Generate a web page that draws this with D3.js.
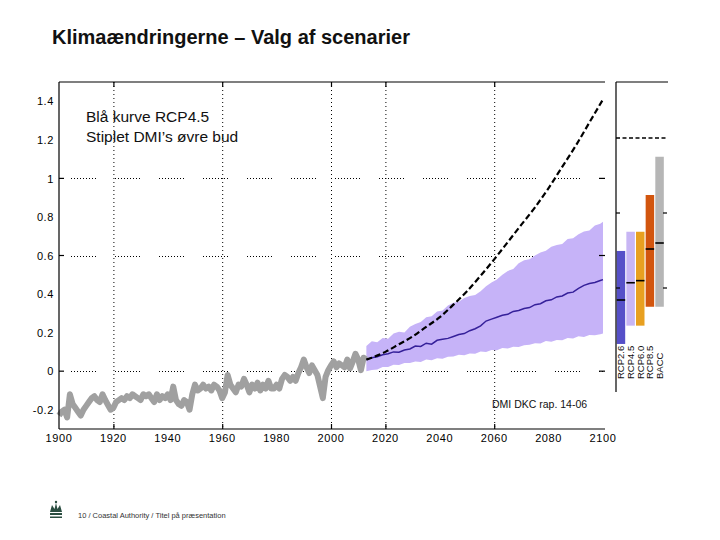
<!DOCTYPE html>
<html><head><meta charset="utf-8">
<script src="https://cdn.jsdelivr.net/npm/d3@7/dist/d3.min.js"></script>
<style>
body{margin:0;background:#fff;}
text{font-family:"Liberation Sans",Arial,Helvetica,sans-serif;}
</style></head>
<body><svg id="c" width="720" height="540"></svg>
<script>
// ---------- DATA ----------
const histYears = d3.range(1900, 2014);
const histValues = [
-0.23,-0.21,-0.20,-0.24,-0.12,-0.17,-0.19,-0.21,-0.23,-0.20,
-0.18,-0.16,-0.14,-0.13,-0.15,-0.16,-0.12,-0.15,-0.175,-0.20,
-0.19,-0.16,-0.15,-0.14,-0.15,-0.13,-0.14,-0.12,-0.13,-0.14,
-0.15,-0.12,-0.13,-0.12,-0.14,-0.16,-0.12,-0.15,-0.13,-0.14,
-0.12,-0.15,-0.08,-0.15,-0.17,-0.18,-0.15,-0.16,-0.20,-0.12,
-0.07,-0.10,-0.09,-0.07,-0.09,-0.08,-0.10,-0.07,-0.08,-0.10,
-0.14,-0.11,-0.02,-0.07,-0.09,-0.11,-0.07,-0.08,-0.04,-0.07,
-0.11,-0.07,-0.09,-0.06,-0.10,-0.07,-0.09,-0.05,-0.09,-0.09,
-0.07,-0.09,-0.04,-0.02,-0.03,-0.05,-0.03,-0.05,-0.01,0.02,
0.06,0.02,-0.01,0.03,0.005,-0.02,-0.08,-0.14,-0.03,0.005,
0.03,0.05,0.02,0.04,0.03,0.02,0.06,0.015,0.05,0.09,
0.06,0.005,0.07,0.06];

const projYears  = [2013,2015,2017,2019,2021,2023,2025,2027,2029,2031,2033,2035,2037,2039,2041,2043,2045,2047,2049,2051,2053,2055,2057,2059,2061,2063,2065,2067,2069,2071,2073,2075,2077,2079,2081,2083,2085,2087,2089,2091,2093,2095,2097,2099,2100];
const projUpper  = [0.13,0.155,0.15,0.172,0.168,0.195,0.205,0.20,0.23,0.245,0.255,0.28,0.285,0.31,0.315,0.34,0.355,0.36,0.38,0.39,0.395,0.415,0.44,0.46,0.475,0.50,0.52,0.53,0.56,0.575,0.58,0.60,0.615,0.625,0.645,0.655,0.66,0.685,0.69,0.71,0.725,0.73,0.755,0.765,0.775];
const projLower  = [0.00,0.006,0.008,0.022,0.022,0.033,0.032,0.043,0.042,0.05,0.047,0.06,0.057,0.067,0.065,0.075,0.076,0.085,0.082,0.092,0.09,0.102,0.099,0.11,0.109,0.12,0.117,0.127,0.126,0.135,0.137,0.145,0.143,0.156,0.153,0.162,0.161,0.172,0.169,0.181,0.177,0.187,0.186,0.192,0.195];
const projMedian = [0.06,0.07,0.075,0.085,0.09,0.10,0.098,0.11,0.115,0.13,0.128,0.145,0.14,0.16,0.165,0.17,0.18,0.19,0.195,0.21,0.22,0.235,0.26,0.27,0.28,0.29,0.295,0.31,0.315,0.325,0.33,0.345,0.35,0.365,0.37,0.385,0.39,0.405,0.41,0.43,0.445,0.455,0.46,0.47,0.475];

const dmiYears  = [2013,2015,2020,2025,2030,2035,2040,2045,2050,2055,2060,2065,2070,2075,2080,2085,2090,2095,2100];
const dmiValues = [0.06,0.07,0.10,0.14,0.18,0.23,0.28,0.345,0.415,0.495,0.58,0.67,0.76,0.85,0.95,1.06,1.17,1.29,1.41];

const yTicks = [-0.2,0,0.2,0.4,0.6,0.8,1,1.2,1.4];
const xTicks = [1900,1920,1940,1960,1980,2000,2020,2040,2060,2080,2100];
const gridYears = [1920,1960,2000,2020,2060];
const gridLevels = [0,0.6,1];

const scenarios   = ["RCP2.6","RCP4.5","RCP6.0","RCP8.5","BACC"];
const scenLow     = [0.127,0.249,0.249,0.375,0.375];
const scenHigh    = [0.747,0.875,0.875,1.12,1.375];
const scenMedian  = [0.42,0.535,0.549,0.76,0.80];
const scenColors  = ["#5650c8","#c8b6f4","#e8a020","#d2550e","#b6b6b6"];
const panelDmi = 1.5;
const panelTicks = [0.5,1.0];

// ---------- LAYOUT ----------
const svg = d3.select("#c");
const x = d3.scaleLinear().domain([1900,2100]).range([59,603]);
const y = d3.scaleLinear().domain([-0.3,1.5]).range([429,82]);
const pTop=82, pBottom=429, pLeft=59, pRight=603;

// title
svg.append("text").attr("x",52).attr("y",44).attr("font-size",20).attr("font-weight","bold")
  .attr("fill","#111").text("Klimaændringerne – Valg af scenarier");

// grid
const g = svg.append("g");
g.selectAll(".gv").data(gridYears).join("line")
  .attr("x1",d=>x(d)+0.5).attr("x2",d=>x(d)+0.5).attr("y1",pTop).attr("y2",pBottom)
  .attr("stroke","#000").attr("stroke-width",1).attr("stroke-dasharray","1,3");
const hd = (Array(9).fill("1,2").join(",")) + ",0,17";
g.selectAll(".gh").data(gridLevels).join("line")
  .attr("x1",pLeft).attr("x2",pRight).attr("y1",d=>Math.round(y(d))+0.5).attr("y2",d=>Math.round(y(d))+0.5)
  .attr("stroke","#000").attr("stroke-width",1).attr("stroke-dasharray",hd).attr("stroke-dashoffset",32);

// projection band
const area = d3.area().x((d,i)=>x(projYears[i])).y0((d,i)=>y(projLower[i])).y1((d,i)=>y(projUpper[i]));
svg.append("path").datum(projYears).attr("d",area).attr("fill","#c6b3f8");

// historical gray
const hl = d3.line().x((d,i)=>x(histYears[i])).y(d=>y(d));
svg.append("path").datum(histValues).attr("d",hl).attr("fill","none")
  .attr("stroke","#a0a0a0").attr("stroke-width",6).attr("stroke-linejoin","round");

// median
const ml = d3.line().x((d,i)=>x(projYears[i])).y(d=>y(d));
svg.append("path").datum(projMedian).attr("d",ml).attr("fill","none")
  .attr("stroke","#35209a").attr("stroke-width",1.5);

// DMI dashed
const dl = d3.line().x((d,i)=>x(dmiYears[i])).y(d=>y(d)).curve(d3.curveMonotoneX);
svg.append("path").datum(dmiValues).attr("d",dl).attr("fill","none")
  .attr("stroke","#000").attr("stroke-width",2.2).attr("stroke-dasharray","6,3");

// axes lines
const ax = svg.append("g").attr("stroke","#000").attr("stroke-width",1.2);
ax.append("line").attr("x1",pLeft).attr("x2",pLeft).attr("y1",pTop).attr("y2",pBottom);
ax.append("line").attr("x1",pLeft).attr("x2",pRight+2).attr("y1",pBottom).attr("y2",pBottom);
ax.append("line").attr("x1",pLeft).attr("x2",pRight+2).attr("y1",pTop).attr("y2",pTop);
gridYears.forEach(d=>{
  ax.append("line").attr("x1",x(d)+0.5).attr("x2",x(d)+0.5).attr("y1",pBottom).attr("y2",pBottom-5);
  ax.append("line").attr("x1",x(d)+0.5).attr("x2",x(d)+0.5).attr("y1",pTop).attr("y2",pTop+5);
});
gridLevels.forEach(d=>{
  ax.append("line").attr("x1",pLeft).attr("x2",pLeft+5).attr("y1",y(d)).attr("y2",y(d));
  ax.append("line").attr("x1",pRight-4).attr("x2",pRight+2).attr("y1",y(d)).attr("y2",y(d));
});

// tick labels
svg.append("g").selectAll("text").data(yTicks).join("text")
  .attr("x",54).attr("y",d=>y(d)).attr("dy","0.38em").attr("text-anchor","end")
  .attr("font-size",11).attr("letter-spacing",0.6).text(d=>d);
svg.append("g").selectAll("text").data(xTicks).join("text")
  .attr("x",d=>x(d)).attr("y",442).attr("text-anchor","middle")
  .attr("font-size",11).attr("letter-spacing",0.6).text(d=>d);

// annotations
svg.append("text").attr("x",86).attr("y",122).attr("font-size",15.5).attr("fill","#111").text("Blå kurve RCP4.5");
svg.append("text").attr("x",86).attr("y",142).attr("font-size",15.5).attr("fill","#111").text("Stiplet DMI’s øvre bud");
svg.append("text").attr("x",492).attr("y",408).attr("font-size",10.5).attr("fill","#111").text("DMI DKC rap. 14-06");

// ---------- PANEL ----------
const py = d3.scaleLinear().domain([0,1.5]).range([363,138]);
const px = d3.scaleBand().domain(scenarios).range([616.5,664]).paddingInner(0.12).paddingOuter(0.02);
const pl=616, pr=667;
const pg = svg.append("g");
pg.selectAll("rect").data(scenarios).join("rect")
  .attr("x",d=>px(d)).attr("width",px.bandwidth())
  .attr("y",(d,i)=>py(scenHigh[i])).attr("height",(d,i)=>py(scenLow[i])-py(scenHigh[i]))
  .attr("fill",(d,i)=>scenColors[i]);
pg.selectAll(".med").data(scenarios).join("line")
  .attr("x1",d=>px(d)).attr("x2",d=>px(d)+px.bandwidth())
  .attr("y1",(d,i)=>py(scenMedian[i])).attr("y2",(d,i)=>py(scenMedian[i]))
  .attr("stroke","#000").attr("stroke-width",1.6);
pg.append("line").attr("x1",pl).attr("x2",pr).attr("y1",py(panelDmi)).attr("y2",py(panelDmi))
  .attr("stroke","#000").attr("stroke-width",1.6).attr("stroke-dasharray","4,2.5");
const pa = pg.append("g").attr("stroke","#000").attr("stroke-width",1.2);
pa.append("line").attr("x1",pl).attr("x2",pl).attr("y1",pTop).attr("y2",392);
pa.append("line").attr("x1",pl).attr("x2",pr+1).attr("y1",pTop).attr("y2",pTop);
panelTicks.forEach(t=>{
  pa.append("line").attr("x1",pl).attr("x2",pl+4).attr("y1",py(t)).attr("y2",py(t));
  pa.append("line").attr("x1",pr-4).attr("x2",pr).attr("y1",py(t)).attr("y2",py(t));
});
pg.selectAll(".lab").data(scenarios).join("text")
  .attr("transform",d=>`translate(${px(d)+px.bandwidth()/2},379) rotate(-90)`)
  .attr("dy","0.36em").attr("font-size",9.5).attr("fill","#111").text(d=>d);

// ---------- FOOTER ----------
const cr = svg.append("g").attr("fill","#2a4d40");
cr.append("path").attr("d","M50,512 L52,505 L54.5,509 L56,503 L57.5,509 L60,505 L62,512 Z");
cr.append("rect").attr("x",50).attr("y",513).attr("width",12).attr("height",2);
cr.append("rect").attr("x",50).attr("y",516.5).attr("width",12).attr("height",1.5);
cr.append("circle").attr("cx",56).attr("cy",502).attr("r",1.2);
svg.append("text").attr("x",78).attr("y",518).attr("font-size",7.5).attr("fill","#333")
  .text("10 / Coastal Authority / Titel på præsentation");
</script></body></html>
